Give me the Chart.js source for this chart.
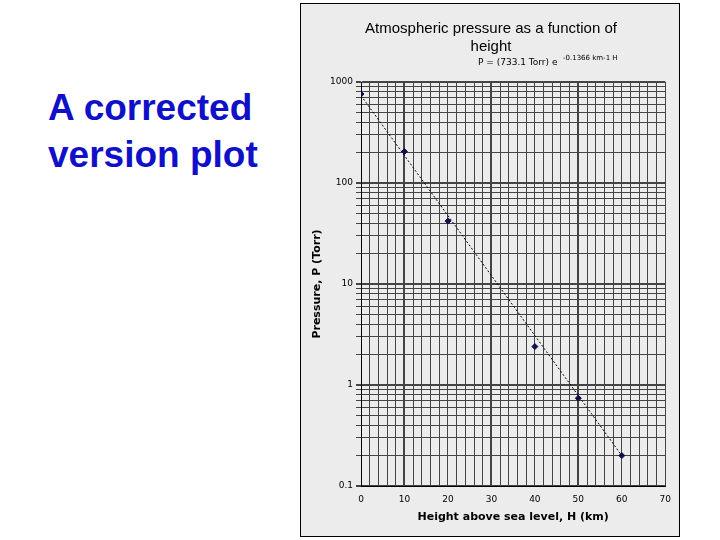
<!DOCTYPE html>
<html><head><meta charset="utf-8">
<script src="https://cdn.jsdelivr.net/npm/chart.js@4/dist/chart.umd.min.js"></script>
<style>
body{margin:0;width:720px;height:540px;background:#fff;position:relative;overflow:hidden;font-family:"Liberation Sans",Arial,sans-serif}
#lbl{position:absolute;left:48px;top:84px;color:#1010c8;font-weight:bold;font-size:37px;line-height:47px}
#box{position:absolute;left:300px;top:3px;width:378px;height:532px;border:1px solid #000;background:#ececec}
</style></head><body>
<div id="lbl">A corrected<br>version plot</div>
<div id="box"><canvas id="c" width="378" height="532"></canvas></div>
<script>
const heights=[0,10,20,40,50,60];
const pressures=[760,205,42,2.4,0.74,0.2];
const fitH=[0,60];
const fitP=[733,0.2];
const yLabels=[0.1,1,10,100,1000];
const xLabels=[0,10,20,30,40,50,60,70];
const titleLines=["Atmospheric pressure as a function of","height"];
const isPow10=v=>yLabels.some(p=>Math.abs(v-p)<1e-9*p);
const deco={id:'deco',afterDraw(ch){const c=ch.ctx;c.save();c.fillStyle='#000';c.textAlign='center';
c.font='15px "Liberation Sans",Arial';c.fillText(titleLines[0],190,29);c.fillText(titleLines[1],190,47);
c.textAlign='left';c.font='9px "DejaVu Sans"';c.fillText('P = (733.1 Torr) e',177,61);
c.font='7px "DejaVu Sans"';c.fillText('-0.1366 km-1 H',262,56);c.restore();}};
new Chart(document.getElementById('c'),{type:'scatter',
data:{datasets:[
{data:fitH.map((h,i)=>({x:h,y:fitP[i]})),showLine:true,borderColor:'#000',borderWidth:1,borderDash:[2,2],pointRadius:0},
{data:heights.map((h,i)=>({x:h,y:pressures[i]})),pointStyle:'rectRot',pointRadius:3,backgroundColor:'#101050',borderColor:'#101050'}]},
options:{responsive:false,animation:false,layout:{padding:{top:78,right:11,left:10,bottom:8}},
plugins:{legend:{display:false},tooltip:{enabled:false}},
scales:{
x:{type:'linear',min:0,max:70,afterFit(s){s.height=42},
afterBuildTicks(s){const t=[];for(let v=0;v<=70;v+=2)t.push({value:v});s.ticks=t;},
ticks:{autoSkip:false,maxRotation:0,padding:8,color:'#000',font:{size:9,family:'DejaVu Sans'},callback:v=>v%10===0?String(v):''},
grid:{color:'#444',lineWidth:c=>[10,30,50].includes(c.tick&&c.tick.value)?2:1,drawTicks:false},border:{color:'#000'},
title:{display:true,text:'Height above sea level, H (km)',color:'#000',font:{size:11,weight:'bold',family:'DejaVu Sans'},padding:{top:6}}},
y:{type:'logarithmic',min:0.1,max:1000,afterFit(s){s.width=50},
afterBuildTicks(s){const t=[];for(const d of [0.1,1,10,100]){for(let k=1;k<10;k++)t.push({value:d*k});}t.push({value:1000});s.ticks=t;},
ticks:{autoSkip:false,color:'#000',font:{size:9,family:'DejaVu Sans'},callback:v=>isPow10(v)?String(v):''},
grid:{color:'#444',lineWidth:c=>c.tick&&isPow10(c.tick.value)?2:1,tickLength:5},border:{color:'#000'},
title:{display:true,text:'Pressure, P (Torr)',color:'#000',font:{size:11,weight:'bold',family:'DejaVu Sans'},padding:0}}}},
plugins:[deco]});
</script></body></html>
